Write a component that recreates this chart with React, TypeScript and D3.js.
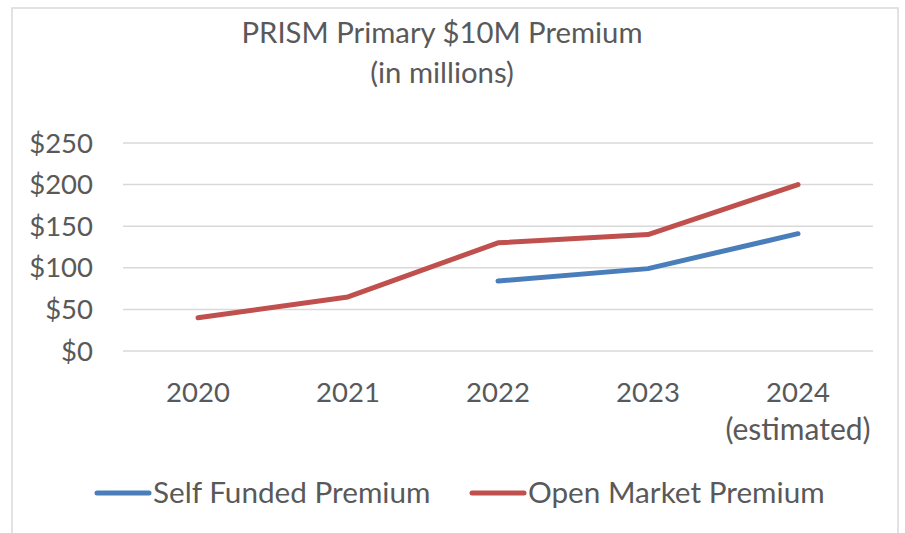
import React, { useRef, useEffect } from "react";
import * as d3 from "d3";

const years = ["2020", "2021", "2022", "2023", "2024"];
const yearSubLabels = ["", "", "", "", "(estimated)"];
const selfFunded: (number | null)[] = [null, null, 84, 99, 141];
const openMarket: (number | null)[] = [40, 65, 130, 140, 200];
const yTicks = [0, 50, 100, 150, 200, 250];
const seriesNames = ["Self Funded Premium", "Open Market Premium"];
const seriesColors = ["#4a7ebb", "#c0504d"];

const width = 905;
const height = 533;
const font = "Lato, 'Open Sans', sans-serif";
const textColor = "#595959";

const App = () => {
  const svgRef = useRef<SVGSVGElement>(null);

  useEffect(() => {
    const svg = d3.select(svgRef.current);
    svg.selectAll("*").remove();

    const margin = { top: 143, right: 32, bottom: 182, left: 123 };
    const chartWidth = width - margin.left - margin.right;
    const chartHeight = height - margin.top - margin.bottom;

    svg.append("rect")
      .attr("x", 12).attr("y", 8)
      .attr("width", 886).attr("height", 540)
      .attr("fill", "#fff").attr("stroke", "#d9d9d9").attr("stroke-width", 1.5);

    // title
    const title = svg.append("text")
      .attr("x", 442).attr("y", 43)
      .attr("text-anchor", "middle")
      .attr("font-family", font).attr("font-size", 29.3)
      .attr("fill", textColor);
    title.append("tspan").attr("x", 442).text("PRISM Primary $10M Premium");
    title.append("tspan").attr("x", 442).attr("dy", 40).text("(in millions)");

    const g = svg.append("g").attr("transform", `translate(${margin.left},${margin.top})`);

    const x = d3.scaleBand().domain(years).range([0, chartWidth]);
    const y = d3.scaleLinear().domain([0, 250]).range([chartHeight, 0]);

    // gridlines
    g.selectAll(".grid")
      .data(yTicks)
      .enter()
      .append("line")
      .attr("x1", 0).attr("x2", chartWidth)
      .attr("y1", (d) => y(d)).attr("y2", (d) => y(d))
      .attr("stroke", "#d9d9d9").attr("stroke-width", 1.5);

    // y labels
    g.selectAll(".ylab")
      .data(yTicks)
      .enter()
      .append("text")
      .attr("x", -30)
      .attr("y", (d) => y(d) + 9.5)
      .attr("text-anchor", "end")
      .attr("font-family", font).attr("font-size", 27.5)
      .attr("fill", textColor)
      .text((d) => `$${d}`);

    // x labels
    const xl = g.selectAll(".xlab")
      .data(years)
      .enter()
      .append("text")
      .attr("x", (d) => x(d)! + x.bandwidth() / 2)
      .attr("y", chartHeight + 51)
      .attr("text-anchor", "middle")
      .attr("font-family", font).attr("font-size", 27.5)
      .attr("fill", textColor);
    xl.append("tspan").text((d) => d);
    xl.append("tspan")
      .attr("x", (d) => x(d)! + x.bandwidth() / 2)
      .attr("dy", 38)
      .attr("font-size", 30)
      .text((d, i) => yearSubLabels[i]);

    // lines
    const line = d3
      .line<number | null>()
      .defined((d) => d !== null)
      .x((d, i) => x(years[i])! + x.bandwidth() / 2)
      .y((d) => y(d as number));

    [selfFunded, openMarket].forEach((s, i) => {
      g.append("path")
        .datum(s)
        .attr("fill", "none")
        .attr("stroke", seriesColors[i])
        .attr("stroke-width", 5)
        .attr("stroke-linecap", "round")
        .attr("stroke-linejoin", "round")
        .attr("d", line);
    });

    // legend
    const legendX = [97, 472];
    seriesNames.forEach((name, i) => {
      svg.append("line")
        .attr("x1", legendX[i]).attr("x2", legendX[i] + 52)
        .attr("y1", 493).attr("y2", 493)
        .attr("stroke", seriesColors[i]).attr("stroke-width", 5)
        .attr("stroke-linecap", "round");
      svg.append("text")
        .attr("x", legendX[i] + 56).attr("y", 503)
        .attr("font-family", font).attr("font-size", 29.7)
        .attr("fill", textColor)
        .text(name);
    });
  }, []);

  return <svg ref={svgRef} width={width} height={height} style={{ position: "absolute", left: 0, top: 0 }}></svg>;
};

export default App;
